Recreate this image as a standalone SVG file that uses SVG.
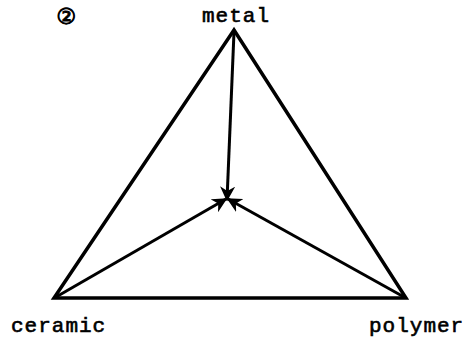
<svg xmlns="http://www.w3.org/2000/svg" width="470" height="343" viewBox="0 0 470 343">
<style>
.t{font-family:"Liberation Mono",monospace;font-size:21px;fill:#000;letter-spacing:1px;stroke:#000;stroke-width:0.6}
.e{stroke:#000;stroke-width:3.5;fill:none;stroke-linecap:round}
.a{stroke:#000;stroke-width:3;fill:none}
</style>
<defs>
<marker id="ah" viewBox="0 0 10 10" refX="9" refY="5" markerWidth="5" markerHeight="5" orient="auto" markerUnits="strokeWidth">
<path d="M0,0 L10,5 L0,10 L3,5 Z" fill="#000"/>
</marker>
</defs>
<rect width="470" height="343" fill="#fff"/>
<g id="label-2"><text x="66" y="24" text-anchor="middle" style="font-family:'DejaVu Sans',sans-serif;font-size:22px;fill:#000;stroke:#000;stroke-width:1">②</text></g>
<g id="connectors">
<path class="e" d="M234,30 L54,298 L406,298 Z"/>
<line class="a" x1="234" y1="32" x2="227" y2="200" marker-end="url(#ah)"/>
<line class="a" x1="56" y1="297" x2="226" y2="199" marker-end="url(#ah)"/>
<line class="a" x1="404" y1="297" x2="228" y2="199" marker-end="url(#ah)"/>
</g>
<g id="metal"><text class="t" x="236" y="22" text-anchor="middle">metal</text></g>
<g id="ceramic"><text class="t" x="11" y="332">ceramic</text></g>
<g id="polymer"><text class="t" x="369" y="332">polymer</text></g>
</svg>
